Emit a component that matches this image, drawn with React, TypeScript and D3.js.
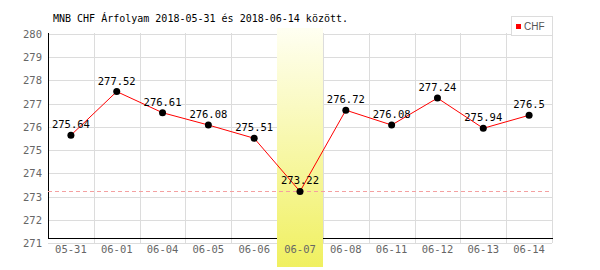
import React from "react";
import * as d3 from "d3";

const categories = ["05-31", "06-01", "06-04", "06-05", "06-06", "06-07", "06-08", "06-11", "06-12", "06-13", "06-14"];
const values = [275.64, 277.52, 276.61, 276.08, 275.51, 273.22, 276.72, 276.08, 277.24, 275.94, 276.5];
const yTicks = [271, 272, 273, 274, 275, 276, 277, 278, 279, 280];
const highlightIndex = 5;
const title = "MNB CHF Árfolyam 2018-05-31 és 2018-06-14 között.";
const seriesName = "CHF";

export default function App() {
  const W = 600, H = 270;
  const left = 48, right = 552, top = 34, bottom = 243;
  const x = d3.scaleBand<string>().domain(categories).range([left, right]);
  const y = d3.scaleLinear().domain([271, 280]).range([bottom, top]);
  const minV = d3.min(values) as number;
  const line = d3.line<number>().x((_, i) => (x(categories[i]) as number) + x.bandwidth() / 2).y(d => y(d));
  const hx = x(categories[highlightIndex]) as number;
  const mono = "'DejaVu Sans Mono', monospace";
  return (
    <svg width={W} height={H} style={{ position: "absolute", left: 0, top: 0 }}>
      <defs>
        <linearGradient id="hl" x1="0" y1="0" x2="0" y2="1">
          <stop offset="0" stopColor="#fffff2" />
          <stop offset="1" stopColor="#f0f060" />
        </linearGradient>
      </defs>
      <rect x={0} y={0} width={W} height={H} fill="#fff" />
      {yTicks.map(t => (
        <line key={"h" + t} x1={left} x2={right} y1={Math.round(y(t)) + 0.5} y2={Math.round(y(t)) + 0.5} stroke="#dcdcdc" />
      ))}
      {categories.map((c) => (
        <line key={"v" + c} x1={Math.round((x(c) as number) + x.bandwidth()) + 0.5} x2={Math.round((x(c) as number) + x.bandwidth()) + 0.5} y1={top - 1} y2={bottom} stroke="#dcdcdc" />
      ))}
      <rect x={Math.round(hx)} y={28} width={Math.round(x.bandwidth())} height={267 - 28} fill="url(#hl)" />
      <line x1={left + 0.5} x2={left + 0.5} y1={top - 1} y2={239} stroke="#000" strokeWidth={1} />
      <line x1={left} x2={Math.round(hx)} y1={238.5} y2={238.5} stroke="#000" strokeWidth={1} />
      <line x1={Math.round(hx + x.bandwidth())} x2={right + 1} y1={238.5} y2={238.5} stroke="#000" strokeWidth={1} />
      <line x1={left} x2={right} y1={Math.round(y(minV)) + 0.5} y2={Math.round(y(minV)) + 0.5} stroke="#f4a0a0" strokeDasharray="4,3" />
      {yTicks.map(t => (
        <text key={"yl" + t} x={42} y={y(t) + 4} textAnchor="end" fontFamily={mono} fontSize={10.5} fill="#666">{t}</text>
      ))}
      {categories.map(c => (
        <text key={"xl" + c} x={(x(c) as number) + x.bandwidth() / 2} y={253} textAnchor="middle" fontFamily={mono} fontSize={10.5} fill="#666">{c}</text>
      ))}
      <path d={line(values) as string} fill="none" stroke="#ff0000" strokeWidth={1} />
      {values.map((v, i) => (
        <circle key={"p" + i} cx={(x(categories[i]) as number) + x.bandwidth() / 2} cy={y(v)} r={3.5} fill="#000" />
      ))}
      {values.map((v, i) => (
        <text key={"t" + i} x={(x(categories[i]) as number) + x.bandwidth() / 2} y={y(v) - 7} textAnchor="middle" fontFamily={mono} fontSize={10.5} fill="#000">{String(v)}</text>
      ))}
      <text x={53} y={22} fontFamily={mono} fontSize={10} fill="#000">{title}</text>
      <rect x={511.5} y={16.5} width={41} height={19} fill="#fff" stroke="#dcdcdc" />
      <rect x={516} y={24} width={5} height={5} fill="#ff0000" />
      <text x={524} y={30} fontFamily="'Liberation Sans', Arial, sans-serif" fontSize={10} fill="#555">{seriesName}</text>
    </svg>
  );
}
